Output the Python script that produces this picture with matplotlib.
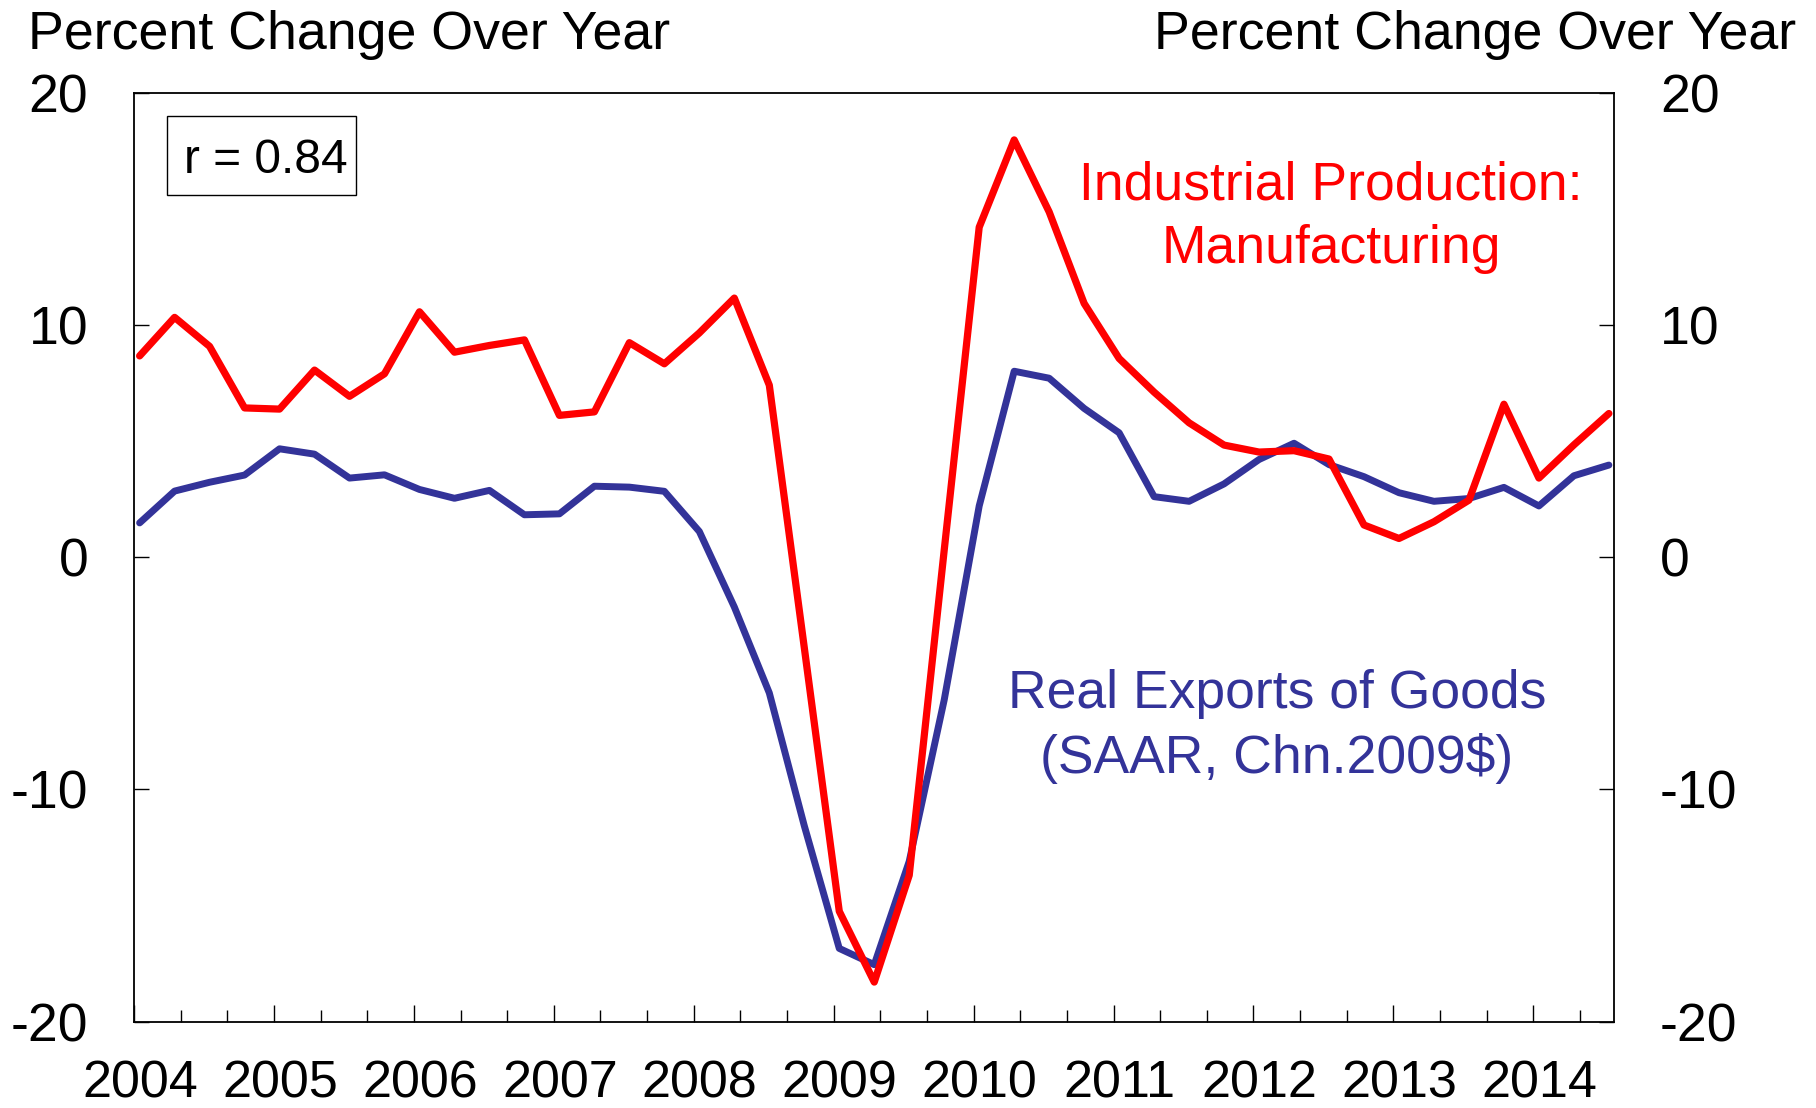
import matplotlib as mpl
mpl.use('Agg')
import matplotlib.pyplot as plt
from matplotlib.patches import Rectangle
from matplotlib.transforms import ScaledTranslation

plt.rcParams['font.family'] = ['Liberation Sans', 'DejaVu Sans']
plt.rcParams['axes.unicode_minus'] = False

# quarterly data, 2004 Q1 to 2014 Q3 (percent change over year)
first_year = 2004
years = list(range(2004, 2015))
year_labels = [str(y) for y in years]
yticks = [-20, -10, 0, 10, 20]
ytick_labels = ['-20', '-10', '0', '10', '20']

manufacturing = [8.66, 10.32, 9.07, 6.42, 6.37, 8.05, 6.92, 7.89,
                 10.56, 8.82, 9.11, 9.35, 6.10, 6.25, 9.23, 8.32,
                 9.65, 11.15, 7.40, -3.9, -15.25, -18.3, -13.7, 0.3,
                 14.2, 17.96, 14.86, 10.92, 8.55, 7.10, 5.78, 4.82,
                 4.52, 4.58, 4.22, 1.38, 0.80, 1.52, 2.45, 6.58,
                 3.40, 4.83, 6.18]

exports = [1.47, 2.84, 3.22, 3.53, 4.66, 4.43, 3.40, 3.54,
           2.91, 2.53, 2.87, 1.82, 1.86, 3.05, 3.01, 2.83,
           1.10, -2.15, -5.85, -11.57, -16.85, -17.55, -13.1, -6.15,
           2.2, 8.0, 7.7, 6.4, 5.35, 2.6, 2.4, 3.15,
           4.2, 4.9, 3.98, 3.46, 2.77, 2.40, 2.52, 3.0,
           2.2, 3.5, 3.96]

# position of each quarter (first month of the quarter)
X = [first_year + k / 4 + 0.04 for k in range(len(manufacturing))]

fig = plt.figure(figsize=(18.16, 11.08), dpi=100)
ax = fig.add_axes([0.0738, 0.0780, 0.8150, 0.8385])

ax.plot(X, exports, color='#333399', lw=5.0, solid_joinstyle='round', solid_capstyle='round')
ax.plot(X, manufacturing, color='#ff0000', lw=5.2, solid_joinstyle='round', solid_capstyle='round')

ax.set_xlim(2004, 2014.577)
ax.set_ylim(-20, 20)

for s in ax.spines.values():
    s.set_linewidth(1.3)

ax.set_yticks(yticks)
ax.set_yticklabels(ytick_labels)
ax.tick_params(axis='y', direction='in', length=11, width=1, left=True, right=True,
               labelleft=True, labelright=True, labelsize=38.5, pad=33)

ax.set_xticks(years)
ax.set_xticklabels(year_labels)
minor = [y + f for y in years for f in (1 / 3, 2 / 3) if y + f < 2014.577]
ax.set_xticks(minor, minor=True)
ax.tick_params(axis='x', which='major', direction='in', length=12, width=1,
               labelsize=37.5, pad=27)
ax.tick_params(axis='x', which='minor', direction='in', length=9, width=1)
shift = ScaledTranslation(6 / 100, 0, fig.dpi_scale_trans)
for lab in ax.get_xticklabels():
    lab.set_transform(lab.get_transform() + shift)

# titles of both axes
fig.text(28 / 1816, 1 - 49 / 1108, 'Percent Change Over Year', ha='left', va='baseline', fontsize=38.7)
fig.text(1796 / 1816, 1 - 49 / 1108, 'Percent Change Over Year', ha='right', va='baseline', fontsize=38.7)

# correlation box
fig.patches.append(Rectangle((166.5 / 1816, 1 - 195 / 1108), 189 / 1816, 79 / 1108,
                             transform=fig.transFigure, fill=False, ec='black', lw=1))
fig.text(184 / 1816, 1 - 173 / 1108, 'r = 0.84', ha='left', va='baseline', fontsize=34.5)

# series labels
fig.text(1331 / 1816, 1 - 200 / 1108, 'Industrial Production:', color='#ff0000',
         ha='center', va='baseline', fontsize=38.5)
fig.text(1331 / 1816, 1 - 263 / 1108, 'Manufacturing', color='#ff0000',
         ha='center', va='baseline', fontsize=38.5)
fig.text(1277 / 1816, 1 - 708 / 1108, 'Real Exports of Goods', color='#333399',
         ha='center', va='baseline', fontsize=38.5)
fig.text(1277 / 1816, 1 - 773 / 1108, '(SAAR, Chn.2009$)', color='#333399',
         ha='center', va='baseline', fontsize=38.5)

plt.savefig('out.png', dpi=100)
